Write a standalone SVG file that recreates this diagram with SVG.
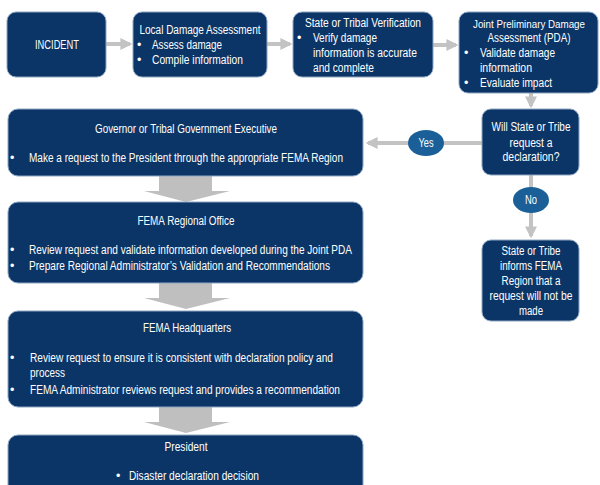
<svg xmlns="http://www.w3.org/2000/svg" width="600" height="485" viewBox="0 0 600 485">
<defs>
<style>
.box{fill:#0b3566;stroke:#8ea6c2;stroke-width:1}
.t{font-family:"Liberation Sans",Arial,sans-serif;font-size:12.5px;fill:#ffffff}
.c{text-anchor:middle}
.oval{fill:#1b5f98}
.ln{stroke:#c3c3c3;stroke-width:4;fill:none}
.big{fill:#bfbfbf}
</style>
<marker id="ah" viewBox="0 0 10 10" refX="8" refY="5" markerWidth="3" markerHeight="3.5" orient="auto" markerUnits="strokeWidth">
<path d="M0,0 L10,5 L0,10 Z" fill="#c3c3c3"/>
</marker>
</defs>
<rect width="600" height="485" fill="#ffffff"/>
<g id="connectors">
<line class="ln" x1="106" y1="44" x2="130" y2="44" marker-end="url(#ah)"/>
<line class="ln" x1="267" y1="44" x2="290" y2="44" marker-end="url(#ah)"/>
<line class="ln" x1="433" y1="45" x2="456" y2="45" marker-end="url(#ah)"/>
<line class="ln" x1="531" y1="93" x2="531" y2="106" marker-end="url(#ah)"/>
<line class="ln" x1="482" y1="143" x2="368" y2="143" marker-end="url(#ah)"/>
<line class="ln" x1="531" y1="175" x2="531" y2="236" marker-end="url(#ah)"/>
<path class="big" d="M159,176 H212 V191 H230 L186,202 L144,191 H159 Z"/>
<path class="big" d="M159,283 H212 V298 H230 L186,309 L144,298 H159 Z"/>
<path class="big" d="M159,407 H212 V422 H230 L186,433 L144,422 H159 Z"/>
<g id="yes"><ellipse class="oval" cx="426" cy="143" rx="18" ry="13"/><text class="t c" x="426" y="147" textLength="15" lengthAdjust="spacingAndGlyphs">Yes</text></g>
<g id="no"><ellipse class="oval" cx="531" cy="200" rx="18" ry="13"/><text class="t c" x="531" y="204" textLength="12" lengthAdjust="spacingAndGlyphs">No</text></g>
</g>
<g id="incident">
<rect class="box" x="7" y="12" width="99" height="65" rx="9"/>
<text class="t c" x="57" y="49" textLength="44" lengthAdjust="spacingAndGlyphs">INCIDENT</text>
</g>
<g id="local">
<rect class="box" x="133" y="12" width="134" height="65" rx="9"/>
<text class="t c" x="200" y="34" textLength="121" lengthAdjust="spacingAndGlyphs">Local Damage Assessment</text>
<text class="t" x="137" y="49">•</text><text class="t" x="152" y="49" textLength="70" lengthAdjust="spacingAndGlyphs">Assess damage</text>
<text class="t" x="137" y="64">•</text><text class="t" x="152" y="64" textLength="91" lengthAdjust="spacingAndGlyphs">Compile information</text>
</g>
<g id="state">
<rect class="box" x="293" y="12" width="140" height="65" rx="9"/>
<text class="t c" x="363" y="27" textLength="116" lengthAdjust="spacingAndGlyphs">State or Tribal Verification</text>
<text class="t" x="297" y="42">•</text><text class="t" x="313" y="42" textLength="64" lengthAdjust="spacingAndGlyphs">Verify damage</text>
<text class="t" x="313" y="57" textLength="104" lengthAdjust="spacingAndGlyphs">information is accurate</text>
<text class="t" x="313" y="72" textLength="61" lengthAdjust="spacingAndGlyphs">and complete</text>
</g>
<g id="pda">
<rect class="box" x="459" y="12" width="139" height="81" rx="9"/>
<text class="t c" x="529" y="28" textLength="112" lengthAdjust="spacingAndGlyphs" style="font-size:11.5px">Joint Preliminary Damage</text>
<text class="t c" x="529" y="42" textLength="83" lengthAdjust="spacingAndGlyphs">Assessment (PDA)</text>
<text class="t" x="464" y="57">•</text><text class="t" x="480" y="57" textLength="75" lengthAdjust="spacingAndGlyphs">Validate damage</text>
<text class="t" x="480" y="72" textLength="52" lengthAdjust="spacingAndGlyphs">information</text>
<text class="t" x="464" y="87">•</text><text class="t" x="480" y="87" textLength="72" lengthAdjust="spacingAndGlyphs">Evaluate impact</text>
</g>
<g id="decision">
<rect class="box" x="482" y="109" width="97" height="66" rx="9"/>
<text class="t c" x="531" y="131" textLength="79" lengthAdjust="spacingAndGlyphs">Will State or Tribe</text>
<text class="t c" x="531" y="147" textLength="43" lengthAdjust="spacingAndGlyphs">request a</text>
<text class="t c" x="531" y="161" textLength="57" lengthAdjust="spacingAndGlyphs">declaration?</text>
</g>
<g id="inform">
<rect class="box" x="482" y="240" width="97" height="81" rx="9"/>
<text class="t c" x="531" y="255" textLength="59" lengthAdjust="spacingAndGlyphs">State or Tribe</text>
<text class="t c" x="531" y="270" textLength="62" lengthAdjust="spacingAndGlyphs">informs FEMA</text>
<text class="t c" x="531" y="285" textLength="59" lengthAdjust="spacingAndGlyphs">Region that a</text>
<text class="t c" x="531" y="300" textLength="83" lengthAdjust="spacingAndGlyphs">request will not be</text>
<text class="t c" x="531" y="315" textLength="24" lengthAdjust="spacingAndGlyphs">made</text>
</g>
<g id="governor">
<rect class="box" x="8" y="109" width="355" height="67" rx="10"/>
<text class="t c" x="186" y="133" textLength="182" lengthAdjust="spacingAndGlyphs">Governor or Tribal Government Executive</text>
<text class="t" x="10" y="162">•</text><text class="t" x="29" y="162" textLength="314" lengthAdjust="spacingAndGlyphs">Make a request to the President through the appropriate FEMA Region</text>
</g>
<g id="regional">
<rect class="box" x="8" y="202" width="355" height="81" rx="10"/>
<text class="t c" x="186" y="225" textLength="97" lengthAdjust="spacingAndGlyphs">FEMA Regional Office</text>
<text class="t" x="10" y="254">•</text><text class="t" x="29" y="254" textLength="323" lengthAdjust="spacingAndGlyphs">Review request and validate information developed during the Joint PDA</text>
<text class="t" x="10" y="270">•</text><text class="t" x="29" y="270" textLength="301" lengthAdjust="spacingAndGlyphs">Prepare Regional Administrator’s Validation and Recommendations</text>
</g>
<g id="hq">
<rect class="box" x="8" y="311" width="355" height="96" rx="10"/>
<text class="t c" x="187" y="332" textLength="88" lengthAdjust="spacingAndGlyphs">FEMA Headquarters</text>
<text class="t" x="10" y="362">•</text><text class="t" x="30" y="362" textLength="303" lengthAdjust="spacingAndGlyphs">Review request to ensure it is consistent with declaration policy and</text>
<text class="t" x="30" y="377" textLength="35" lengthAdjust="spacingAndGlyphs">process</text>
<text class="t" x="10" y="394">•</text><text class="t" x="30" y="394" textLength="310" lengthAdjust="spacingAndGlyphs">FEMA Administrator reviews request and provides a recommendation</text>
</g>
<g id="president">
<rect class="box" x="8" y="435" width="355" height="70" rx="10"/>
<text class="t c" x="186" y="451" textLength="43" lengthAdjust="spacingAndGlyphs">President</text>
<text class="t" x="116" y="480">•</text><text class="t" x="129" y="480" textLength="130" lengthAdjust="spacingAndGlyphs">Disaster declaration decision</text>
</g>
</svg>
